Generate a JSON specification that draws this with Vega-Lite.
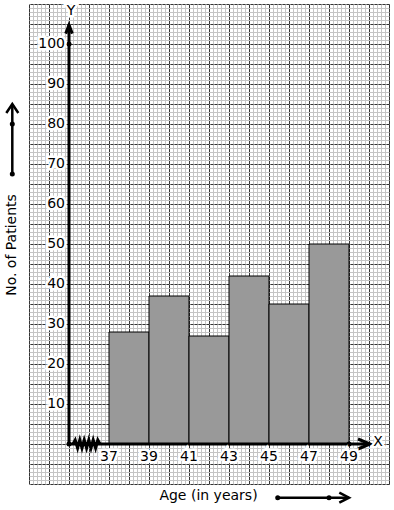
{
"$schema": "https://vega.github.io/schema/vega-lite/v6.json",
"width": 360, "height": 480,
"autosize": {"type": "none"},
"padding": {"left": 29, "top": 4, "right": 5, "bottom": 26},
"background": "white",
"config": {"view": {"stroke": "#333333", "strokeWidth": 1}, "text": {"font": "DejaVu Sans", "fontSize": 14}, "axis": {"labels": false, "ticks": false, "domain": false, "title": null}},
"datasets": {
 "bars": [
  {"start": 37, "end": 39, "count": 28},
  {"start": 39, "end": 41, "count": 37},
  {"start": 41, "end": 43, "count": 27},
  {"start": 43, "end": 45, "count": 42},
  {"start": 45, "end": 47, "count": 35},
  {"start": 47, "end": 49, "count": 50}
 ],
 "lines": [
  {"g": "axis", "id": "yaxis", "x": 35, "y": 0, "o": 0},
  {"g": "axis", "id": "yaxis", "x": 35, "y": 104.75, "o": 1},
  {"g": "axis", "id": "yarrow", "x": 34.835, "y": 102.6, "o": 0},
  {"g": "axis", "id": "yarrow", "x": 35, "y": 104.75, "o": 1},
  {"g": "axis", "id": "yarrow", "x": 35.165, "y": 102.6, "o": 2},
  {"g": "axis", "id": "xaxis", "x": 35, "y": 0, "o": 0},
  {"g": "axis", "id": "xaxis", "x": 50.05, "y": 0, "o": 1},
  {"g": "axis", "id": "xarrow", "x": 49.45, "y": 1.25, "o": 0},
  {"g": "axis", "id": "xarrow", "x": 50.05, "y": 0, "o": 1},
  {"g": "axis", "id": "xarrow", "x": 49.45, "y": -1.25, "o": 2},
  {"g": "axis", "id": "zig", "x": 35.2, "y": 0, "o": 0},
  {"g": "axis", "id": "zig", "x": 35.31, "y": 1, "o": 1},
  {"g": "axis", "id": "zig", "x": 35.43, "y": -1, "o": 2},
  {"g": "axis", "id": "zig", "x": 35.54, "y": 1, "o": 3},
  {"g": "axis", "id": "zig", "x": 35.65, "y": -1, "o": 4},
  {"g": "axis", "id": "zig", "x": 35.76, "y": 1, "o": 5},
  {"g": "axis", "id": "zig", "x": 35.88, "y": -1, "o": 6},
  {"g": "axis", "id": "zig", "x": 35.99, "y": 1, "o": 7},
  {"g": "axis", "id": "zig", "x": 36.1, "y": -1, "o": 8},
  {"g": "axis", "id": "zig", "x": 36.21, "y": 1, "o": 9},
  {"g": "axis", "id": "zig", "x": 36.33, "y": -1, "o": 10},
  {"g": "axis", "id": "zig", "x": 36.44, "y": 1, "o": 11},
  {"g": "axis", "id": "zig", "x": 36.55, "y": 0, "o": 12},
  {"g": "deco", "id": "larrow", "x": 32.165, "y": 67.5, "o": 0},
  {"g": "deco", "id": "larrow", "x": 32.165, "y": 85, "o": 1},
  {"g": "deco", "id": "larrowhead", "x": 31.865, "y": 82.75, "o": 0},
  {"g": "deco", "id": "larrowhead", "x": 32.165, "y": 85, "o": 1},
  {"g": "deco", "id": "larrowhead", "x": 32.465, "y": 82.75, "o": 2},
  {"g": "deco", "id": "barrow", "x": 45.435, "y": -13.425, "o": 0},
  {"g": "deco", "id": "barrow", "x": 49.0, "y": -13.425, "o": 1},
  {"g": "deco", "id": "barrowhead", "x": 48.515, "y": -12.175, "o": 0},
  {"g": "deco", "id": "barrowhead", "x": 49.0, "y": -13.425, "o": 1},
  {"g": "deco", "id": "barrowhead", "x": 48.515, "y": -14.675, "o": 2}
 ],
 "dots": [
  {"x": 35, "y": 0}, {"x": 35, "y": 100}, {"x": 49, "y": 0},
  {"x": 32.165, "y": 80}, {"x": 32.165, "y": 67.5},
  {"x": 45.435, "y": -13.425}, {"x": 48.0, "y": -13.425}
 ],
 "xlabels": [{"x": 37}, {"x": 39}, {"x": 41}, {"x": 43}, {"x": 45}, {"x": 47}, {"x": 49}],
 "ylabels": [{"y": 10}, {"y": 20}, {"y": 30}, {"y": 40}, {"y": 50}, {"y": 60}, {"y": 70}, {"y": 80}, {"y": 90}, {"y": 100}]
},
"resolve": {"axis": {"x": "independent", "y": "independent"}},
"layer": [
 {
  "data": {"name": "bars"},
  "mark": {"type": "rect", "fill": "#999999", "stroke": "black", "strokeWidth": 1},
  "encoding": {
   "x": {"field": "start", "type": "quantitative", "scale": {"domain": [33, 51], "nice": false, "zero": false},
         "axis": {"orient": "bottom", "grid": true, "gridColor": "#c4c4c4", "gridWidth": 1, "gridOpacity": 1, "tickCount": 90}},
   "x2": {"field": "end"},
   "y": {"field": "count", "type": "quantitative", "scale": {"domain": [-10, 110], "nice": false, "zero": false},
         "axis": {"orient": "left", "grid": true, "gridColor": "#c4c4c4", "gridWidth": 1, "gridOpacity": 1, "tickCount": 120}},
   "y2": {"datum": 0}
  }
 },
 {
  "data": {"name": "lines"},
  "transform": [{"filter": "datum.g === 'axis'"}],
  "mark": {"type": "line", "color": "black", "strokeWidth": 3, "strokeJoin": "miter"},
  "encoding": {
   "x": {"field": "x", "type": "quantitative",
         "axis": {"orient": "top", "grid": true, "gridColor": "#333333", "gridWidth": 1, "gridOpacity": 1,
                  "values": [33,34,35,36,37,38,39,40,41,42,43,44,45,46,47,48,49,50,51]}},
   "y": {"field": "y", "type": "quantitative",
         "axis": {"orient": "right", "grid": true, "gridColor": "#333333", "gridWidth": 1, "gridOpacity": 1, "gridDash": [3, 1],
                  "values": [-10,-5,0,5,10,15,20,25,30,35,40,45,50,55,60,65,70,75,80,85,90,95,100,105,110]}},
   "detail": {"field": "id"},
   "order": {"field": "o"}
  }
 },
 {
  "data": {"name": "lines"},
  "transform": [{"filter": "datum.g === 'deco'"}],
  "mark": {"type": "line", "color": "black", "strokeWidth": 2.5},
  "encoding": {
   "x": {"field": "x", "type": "quantitative", "axis": null},
   "y": {"field": "y", "type": "quantitative", "axis": null},
   "detail": {"field": "id"},
   "order": {"field": "o"}
  }
 },
 {
  "data": {"name": "dots"},
  "mark": {"type": "circle", "color": "black", "opacity": 1, "size": 25},
  "encoding": {
   "x": {"field": "x", "type": "quantitative", "axis": null},
   "y": {"field": "y", "type": "quantitative", "axis": null}
  }
 },
 {
  "data": {"name": "xlabels"},
  "mark": {"type": "text", "fontSize": 14, "fill": "white", "stroke": "white", "strokeWidth": 5, "align": "center", "baseline": "middle"},
  "encoding": {
   "x": {"field": "x", "type": "quantitative", "axis": null},
   "y": {"datum": -3.25, "axis": null},
   "text": {"field": "x", "type": "quantitative"}
  }
 },
 {
  "data": {"name": "xlabels"},
  "mark": {"type": "text", "fontSize": 14, "fill": "black", "align": "center", "baseline": "middle"},
  "encoding": {
   "x": {"field": "x", "type": "quantitative", "axis": null},
   "y": {"datum": -3.25, "axis": null},
   "text": {"field": "x", "type": "quantitative"}
  }
 },
 {
  "data": {"name": "ylabels"},
  "mark": {"type": "text", "fontSize": 14, "fill": "white", "stroke": "white", "strokeWidth": 5, "align": "right", "baseline": "middle"},
  "encoding": {
   "x": {"datum": 34.8, "axis": null},
   "y": {"field": "y", "type": "quantitative", "axis": null},
   "text": {"field": "y", "type": "quantitative"}
  }
 },
 {
  "data": {"name": "ylabels"},
  "mark": {"type": "text", "fontSize": 14, "fill": "black", "align": "right", "baseline": "middle"},
  "encoding": {
   "x": {"datum": 34.8, "axis": null},
   "y": {"field": "y", "type": "quantitative", "axis": null},
   "text": {"field": "y", "type": "quantitative"}
  }
 },
 {
  "data": {"values": [{"t": "Y"}]},
  "mark": {"type": "text", "fontSize": 14, "fill": "white", "stroke": "white", "strokeWidth": 5, "align": "center", "baseline": "middle"},
  "encoding": {"x": {"datum": 35.1, "axis": null}, "y": {"datum": 108.25, "axis": null}, "text": {"field": "t"}}
 },
 {
  "data": {"values": [{"t": "Y"}]},
  "mark": {"type": "text", "fontSize": 14, "fill": "black", "align": "center", "baseline": "middle"},
  "encoding": {"x": {"datum": 35.1, "axis": null}, "y": {"datum": 108.25, "axis": null}, "text": {"field": "t"}}
 },
 {
  "data": {"values": [{"t": "X"}]},
  "mark": {"type": "text", "fontSize": 14, "fill": "white", "stroke": "white", "strokeWidth": 5, "align": "center", "baseline": "middle"},
  "encoding": {"x": {"datum": 50.45, "axis": null}, "y": {"datum": 0.4, "axis": null}, "text": {"field": "t"}}
 },
 {
  "data": {"values": [{"t": "X"}]},
  "mark": {"type": "text", "fontSize": 14, "fill": "black", "align": "center", "baseline": "middle"},
  "encoding": {"x": {"datum": 50.45, "axis": null}, "y": {"datum": 0.4, "axis": null}, "text": {"field": "t"}}
 },
 {
  "data": {"values": [{"t": "Age (in years)"}]},
  "mark": {"type": "text", "fontSize": 14, "fill": "black", "align": "center", "baseline": "middle"},
  "encoding": {"x": {"datum": 41.975, "axis": null}, "y": {"datum": -13.0, "axis": null}, "text": {"field": "t"}}
 },
 {
  "data": {"values": [{"t": "No. of Patients"}]},
  "mark": {"type": "text", "fontSize": 14, "fill": "black", "align": "center", "baseline": "middle", "angle": 270},
  "encoding": {"x": {"datum": 32.125, "axis": null}, "y": {"datum": 49.75, "axis": null}, "text": {"field": "t"}}
 }
]
}
